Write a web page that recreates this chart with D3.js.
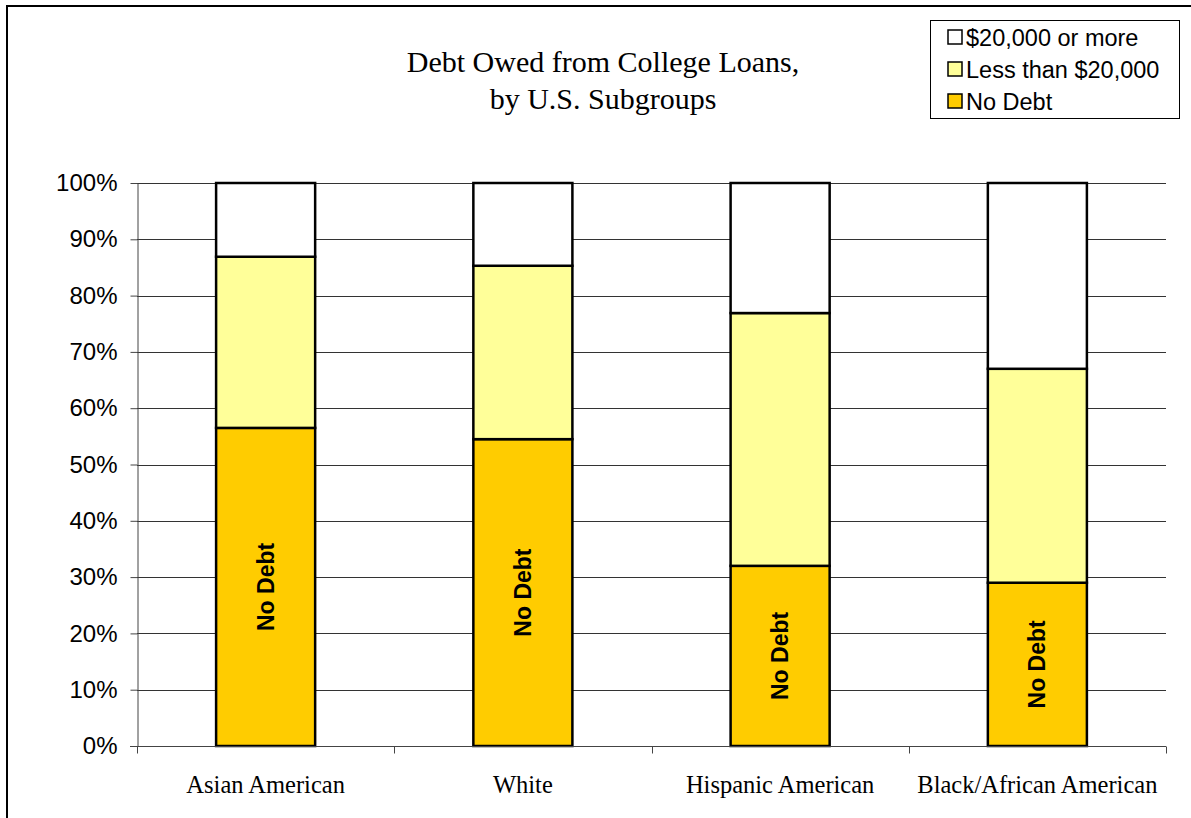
<!DOCTYPE html>
<html>
<head>
<meta charset="utf-8">
<script src="https://cdn.jsdelivr.net/npm/d3@7"></script>
<style>
  body { margin: 0; background: #fff; }
  svg { display: block; }
</style>
</head>
<body>
<svg id="chart" width="1191" height="818"></svg>
<script>
// Chart values
const categories = ['Asian American', 'White', 'Hispanic American', 'Black/African American'];
const noDebt = [56.5, 54.5, 32, 29];
const under20k = [30.4, 30.8, 44.9, 38];
const over20k = [13.1, 14.7, 23.1, 33];
const seriesNames = ['No Debt', 'Less than $20,000', '$20,000 or more'];
const seriesColors = ['#FFCC00', '#FFFF99', '#FFFFFF'];
const yTicks = [0, 10, 20, 30, 40, 50, 60, 70, 80, 90, 100];

const margin = { top: 183, left: 137, right: 25, bottom: 72 };
const width = 1191;
const height = 818;
const plotW = width - margin.left - margin.right;
const plotH = height - margin.top - margin.bottom;

const sans = 'Arial, "Liberation Sans", sans-serif';
const serif = '"Liberation Serif", "DejaVu Serif", serif';

const svg = d3.select('#chart');

// outer frame, only top and left edges show
svg.append('path')
  .attr('d', `M7,${height} V6 H${width}`)
  .attr('fill', 'none')
  .attr('stroke', '#000')
  .attr('stroke-width', 2);

const x = d3.scaleBand()
  .domain(categories)
  .range([0, plotW])
  .paddingInner(0.615)
  .paddingOuter(0.3075);

const y = d3.scaleLinear()
  .domain([0, 100])
  .range([plotH, 0]);

const g = svg.append('g')
  .attr('transform', `translate(${margin.left},${margin.top})`);

// gridlines
g.append('g')
  .selectAll('line')
  .data(yTicks.filter(t => t > 0))
  .join('line')
  .attr('x1', 0)
  .attr('x2', plotW)
  .attr('y1', d => Math.round(y(d)) + 0.5)
  .attr('y2', d => Math.round(y(d)) + 0.5)
  .attr('stroke', '#333')
  .attr('stroke-width', 1);

// y axis
const yAxis = g.append('g')
  .attr('transform', 'translate(0.5,0)')
  .call(d3.axisLeft(y).tickValues(yTicks).tickFormat(d => d + '%').tickSize(7).tickSizeOuter(0));
yAxis.select('.domain').attr('stroke', '#444');
yAxis.selectAll('.tick line').attr('stroke', '#444');
yAxis.selectAll('.tick text')
  .attr('x', -20)
  .style('font-family', sans)
  .style('font-size', '24px')
  .attr('fill', '#000');

// stacked bars
const rows = categories.map((c, i) => ({ cat: c, s0: noDebt[i], s1: under20k[i], s2: over20k[i] }));
const stack = d3.stack().keys(['s0', 's1', 's2']);
const layers = stack(rows);

g.append('g')
  .selectAll('g')
  .data(layers)
  .join('g')
  .attr('fill', (d, i) => seriesColors[i])
  .selectAll('rect')
  .data(d => d)
  .join('rect')
  .attr('x', d => x(d.data.cat))
  .attr('y', d => y(d[1]))
  .attr('width', x.bandwidth())
  .attr('height', d => y(d[0]) - y(d[1]))
  .attr('stroke', '#000')
  .attr('stroke-width', 2.5);

// x axis
const xAxis = g.append('g')
  .attr('transform', `translate(0,${plotH + 0.5})`);
xAxis.append('line')
  .attr('x1', -7).attr('x2', plotW)
  .attr('stroke', '#444');
xAxis.selectAll('.sep')
  .data(d3.range(categories.length + 1))
  .join('line')
  .attr('class', 'sep')
  .attr('x1', i => Math.round(i * plotW / categories.length) + 0.5)
  .attr('x2', i => Math.round(i * plotW / categories.length) + 0.5)
  .attr('y1', 0)
  .attr('y2', 7)
  .attr('stroke', '#444');
xAxis.selectAll('text')
  .data(categories)
  .join('text')
  .attr('x', d => x(d) + x.bandwidth() / 2)
  .attr('y', 46)
  .attr('text-anchor', 'middle')
  .style('font-family', serif)
  .style('font-size', '24.5px')
  .text(d => d);

// "No Debt" labels inside the bottom segment
g.append('g')
  .selectAll('text')
  .data(layers[0])
  .join('text')
  .attr('transform', d => `translate(${x(d.data.cat) + x.bandwidth() / 2 + 8},${(y(d[0]) + y(d[1])) / 2}) rotate(-90)`)
  .attr('text-anchor', 'middle')
  .style('font-family', sans)
  .style('font-weight', 'bold')
  .style('font-size', '23px')
  .text('No Debt');

// title
const title = svg.append('text')
  .attr('text-anchor', 'middle')
  .style('font-family', serif)
  .style('font-size', '30px');
title.append('tspan').attr('x', 603).attr('y', 72).text('Debt Owed from College Loans,');
title.append('tspan').attr('x', 603).attr('y', 109).text('by U.S. Subgroups');

// legend
const legend = svg.append('g').attr('transform', 'translate(930,20)');
legend.append('rect')
  .attr('x', 0.5).attr('y', 0.5)
  .attr('width', 249).attr('height', 98)
  .attr('fill', '#fff')
  .attr('stroke', '#000');
const legendItems = [2, 1, 0];
const li = legend.selectAll('.item')
  .data(legendItems)
  .join('g')
  .attr('class', 'item')
  .attr('transform', (d, i) => `translate(18,${17 + i * 32})`);
li.append('rect')
  .attr('x', 0).attr('y', -7)
  .attr('width', 14).attr('height', 14)
  .attr('fill', d => seriesColors[d])
  .attr('stroke', '#000')
  .attr('stroke-width', 1.5);
li.append('text')
  .attr('x', 18)
  .attr('y', 8.5)
  .style('font-family', sans)
  .style('font-size', '23.5px')
  .text(d => seriesNames[d]);
</script>
</body>
</html>
